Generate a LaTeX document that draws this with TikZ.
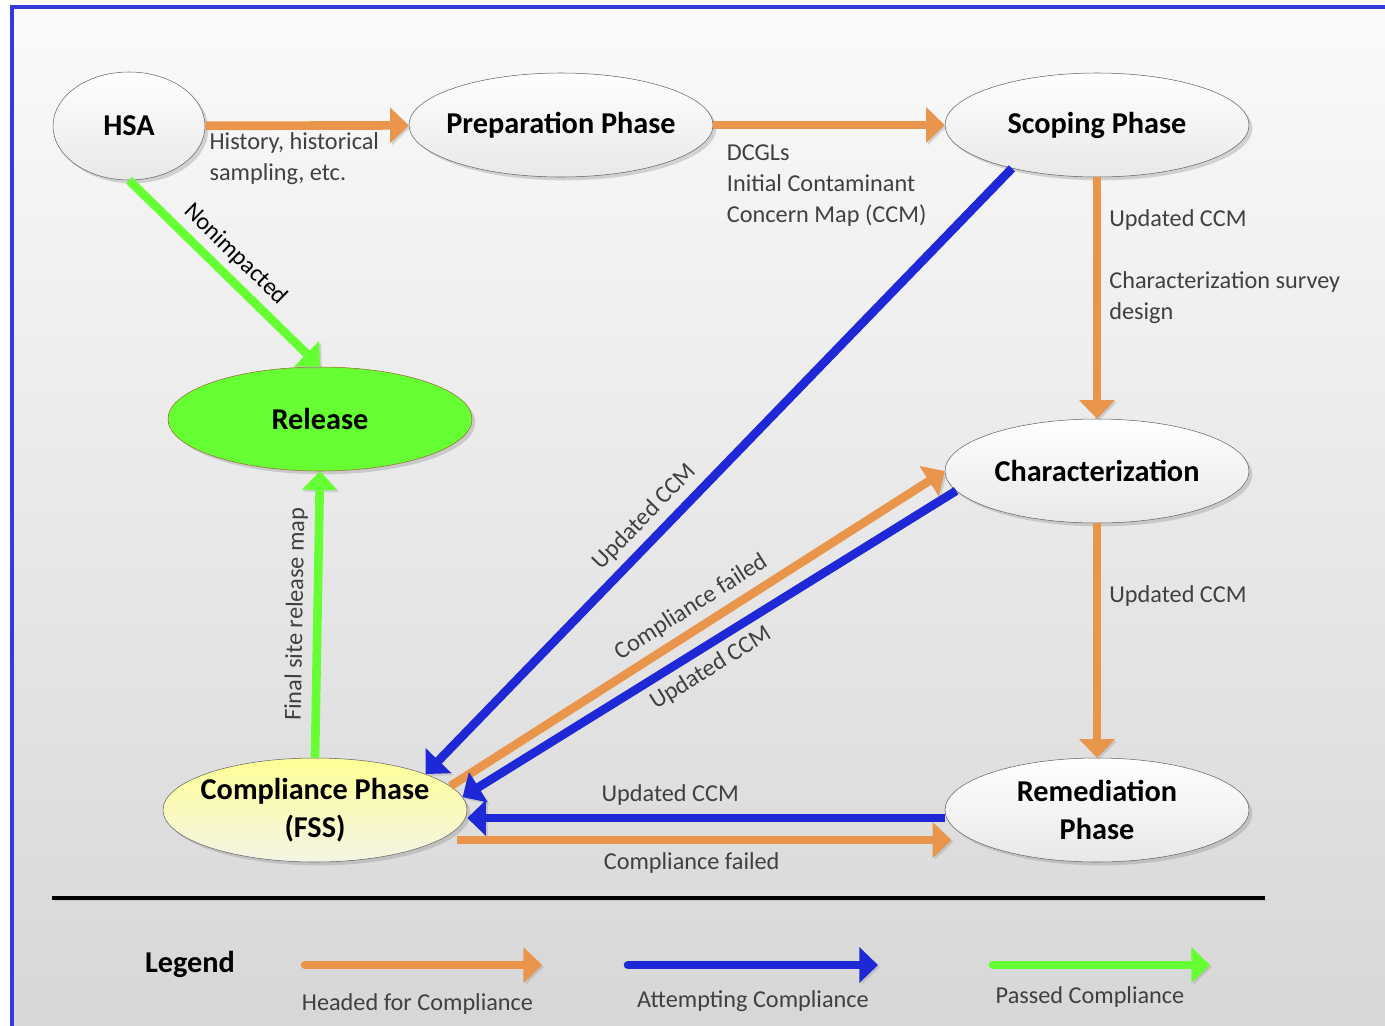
\documentclass[tikz,border=0pt]{standalone}
\usepackage{fontspec}
\setmainfont{Carlito}
\usetikzlibrary{arrows.meta,shapes.geometric,shadows}
\definecolor{flowor}{RGB}{233,150,76}
\definecolor{flowbl}{RGB}{30,40,215}
\definecolor{flowgr}{RGB}{102,255,51}
\definecolor{framebl}{RGB}{50,60,220}
\begin{document}
\begin{tikzpicture}[
  x=0.75pt, y=-0.75pt,
  phase/.style={ellipse, draw=black!60, thin, top color=white, bottom color=black!9,
    minimum width=228pt, minimum height=78pt, inner xsep=-12pt, inner ysep=0pt, align=center,
    font=\fontsize{22.7}{28.5}\selectfont\bfseries,
    drop shadow={shadow xshift=2.5pt, shadow yshift=-2.5pt, opacity=.3}},
  lbl/.style={font=\fontsize{18.2}{23.3}\selectfont, text=black!75, inner sep=2pt, align=left},
  flow/.style={line width=6.5pt, -{Triangle[length=14pt,width=26pt]},
    preaction={draw=black!40, opacity=.35, transform canvas={shift={(1.5pt,-1.5pt)}}}},
  orflow/.style={flow, draw=flowor},
  blflow/.style={flow, draw=flowbl},
  grflow/.style={flow, draw=flowgr}
]
\clip (0,0) rectangle (1385,1025);
\shade[top color=black!2, bottom color=black!16, draw=framebl, line width=2.5pt]
  (12,7) rectangle (1410,1045);

% phases
\node[phase, minimum width=114pt, minimum height=81pt] (hsa) at (129,126) {HSA};
\node[phase] (prep) at (561,125) {Preparation Phase};
\node[phase] (scope) at (1097,125) {Scoping Phase};
\node[phase, fill=flowgr, draw=flowor!70!black, top color=flowgr, bottom color=flowgr] (release) at (320,419) {Release};
\node[phase] (char) at (1097,471) {Characterization};
\node[phase, top color={rgb,255:red,255;green,255;blue,150}, bottom color={rgb,255:red,244;green,244;blue,230}] (comp) at (315,810) {Compliance Phase\\(FSS)};
\node[phase] (rem) at (1097,810) {Remediation\\Phase};

% headed for compliance
\draw[orflow] (hsa) -- (prep)
  node[lbl, pos=0, anchor=north west, xshift=-2pt, yshift=0.5pt] (histlbl) {History, historical\\sampling, etc.};
\draw[orflow] (prep) -- (scope)
  node[lbl, pos=0, anchor=north west, xshift=5pt, yshift=-9.3pt] (dcgllbl) {DCGLs\\Initial Contaminant\\Concern Map (CCM)};
\draw[orflow] (scope) -- (char)
  node[lbl, pos=0, anchor=north west, xshift=4pt, yshift=-18.7pt] (designlbl) {Updated CCM\\[23.3pt]Characterization survey\\design};
\draw[orflow] (char) -- (rem)
  node[lbl, pos=0.31, anchor=west, xshift=4pt] (charccm) {Updated CCM};
\draw[orflow] (comp.10) -- (char.west)
  node[lbl, pos=0.51, sloped, above=3pt] (failchar) {Compliance failed};
\draw[orflow, shorten <=-8pt, shorten >=-5pt] ([yshift=-22.5pt]comp.east) -- ([yshift=-22.5pt]rem.west)
  node[lbl, pos=0.47, below=4pt] (failrem) {Compliance failed};

% attempting compliance
\draw[blflow] (scope.207) -- (comp.18)
  node[lbl, pos=0.6, sloped, above=3pt] (scopeccm) {Updated CCM};
\draw[blflow] (char.188) -- (comp.5)
  node[lbl, pos=0.52, sloped, below=3pt] (charback) {Updated CCM};
\draw[blflow] ([yshift=-6pt]rem.west) -- ([yshift=-6pt]comp.east)
  node[lbl, pos=0.575, above=4pt] (remccm) {Updated CCM};

% passed compliance
\draw[grflow] (hsa.south) -- (release.north)
  node[lbl, pos=0.48, sloped, above=3pt, text=black] (nonimp) {Nonimpacted};
\draw[grflow] (comp.north) -- (release.south)
  node[lbl, pos=0.5, sloped, above=3pt] (finallbl) {Final site release map};

% legend
\coordinate (sepL) at (52,898);
\coordinate (sepR) at (1265,898);
\draw[line width=3pt, preaction={draw=black!40, opacity=.35, transform canvas={shift={(1.5pt,-1.5pt)}}}] (sepL) -- (sepR);
\node[font=\fontsize{22.7}{27}\selectfont\bfseries] (legend) at (190,964) {Legend};
\coordinate (headA) at (305,965);
\coordinate (headB) at (542,965);
\coordinate (attA) at (628,965);
\coordinate (attB) at (878,965);
\coordinate (passA) at (993,965);
\coordinate (passB) at (1210,965);
\draw[orflow, line cap=round] (headA) -- (headB)
  node[lbl, midway, xshift=-4.5pt, yshift=-29pt] (headlbl) {Headed for Compliance};
\draw[blflow, line cap=round] (attA) -- (attB)
  node[lbl, midway, yshift=-27pt] (attlbl) {Attempting Compliance};
\draw[grflow, line cap=round] (passA) -- (passB)
  node[lbl, midway, xshift=-8.6pt, yshift=-24pt] (passlbl) {Passed Compliance};
\end{tikzpicture}
\end{document}
